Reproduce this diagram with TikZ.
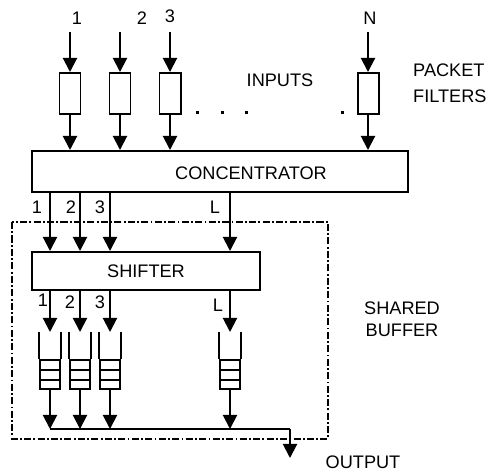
\documentclass[tikz,border=0pt]{standalone}
\usepackage{fontspec}
\setmainfont{Liberation Sans}
\usetikzlibrary{arrows.meta}

\begin{document}
\begin{tikzpicture}[x=0.03cm,y=-0.03cm,
    every node/.style={font=\fontsize{15.5}{18}\selectfont},
    arr/.style={-{Triangle[length=12pt,width=12pt]},line width=1.7pt},
    blk/.style={rectangle,draw,line width=1.7pt,inner sep=0pt},
    filt/.style={blk,minimum width=0.63cm,minimum height=1.23cm},
    que/.style={blk,minimum width=0.6cm,minimum height=0.87cm},
    lbl/.style={inner sep=0pt},
    buf/.style={line width=1pt,dash pattern=on 6pt off 2pt on 1.5pt off 2pt}
]
\useasboundingbox (0,0) rectangle (489,473);

% concentrator and shifter
\node[blk,minimum width=11.28cm,minimum height=1.23cm] (conc) at (220,171.5) {};
\node[lbl] (conctxt) at (251,173) {CONCENTRATOR};
\node[blk,minimum width=6.84cm,minimum height=1.14cm] (shift) at (146,271) {SHIFTER};

% inputs and packet filters
\foreach \n/\x/\t/\lx/\ly in {1/70/1/77/18,2/120/2/142/18,3/170/3/170/16,4/368/N/370/18} {
  \coordinate (in\n) at (\x,32);
  \node[lbl] (inlbl\n) at (\lx,\ly) {\t};
  \node[filt] (f\n) at (\x,93.5) {};
  \draw[arr] (in\n) -- (f\n.north);
  \draw[arr] (f\n.south) -- (f\n.south |- conc.north);
}
\foreach \x in {197,222,246,342}
  \fill (\x-1.5,110.5) rectangle ++(3,3);

% shared buffer lanes
\foreach \n/\x/\t/\ax/\bx/\by in {1/50/1/37/43/300,2/80/2/71/70/302,3/110/3/100/100/302,4/230/L/215/218/305} {
  \coordinate (ln\n) at (\x,0);
  \coordinate (qt\n) at (\x,332);
  \coordinate (bus\n) at (\x,429);
  \node[lbl] (cl\n) at (\ax,207) {\t};
  \node[lbl] (sl\n) at (\bx,\by) {\t};
  \node[que] (q\n) at (\x,374.5) {};
  \draw[line width=1.7pt] (q\n.north west) -- (q\n.north west |- qt\n)
    (q\n.north east) -- (q\n.north east |- qt\n);
  \draw[line width=1.7pt] (\x-10,370) -- (\x+10,370) (\x-10,380) -- (\x+10,380);
  \draw[arr] (conc.south -| ln\n) -- (shift.north -| ln\n);
  \draw[arr] (shift.south -| ln\n) -- (qt\n);
  \draw[arr] (q\n.south) -- (bus\n);
}

% output
\coordinate (busend) at (290,429);
\coordinate (out) at (290,458);
\draw[line width=1.7pt] (bus1) -- (busend);
\draw[arr] (busend) -- (out);

\draw[buf] (12,222) rectangle (328,439);

% texts
\node[lbl] (inputs) at (280,80) {INPUTS};
\node[lbl,anchor=west,align=left,font=\fontsize{15.5}{22}\selectfont] (pf) at (413,83) {PACKET\\FILTERS};
\node[lbl,align=center,font=\fontsize{15.5}{18.5}\selectfont] (sb) at (402,319) {SHARED\\BUFFER};
\node[lbl] (outlbl) at (363,462) {OUTPUT};
\end{tikzpicture}
\end{document}
